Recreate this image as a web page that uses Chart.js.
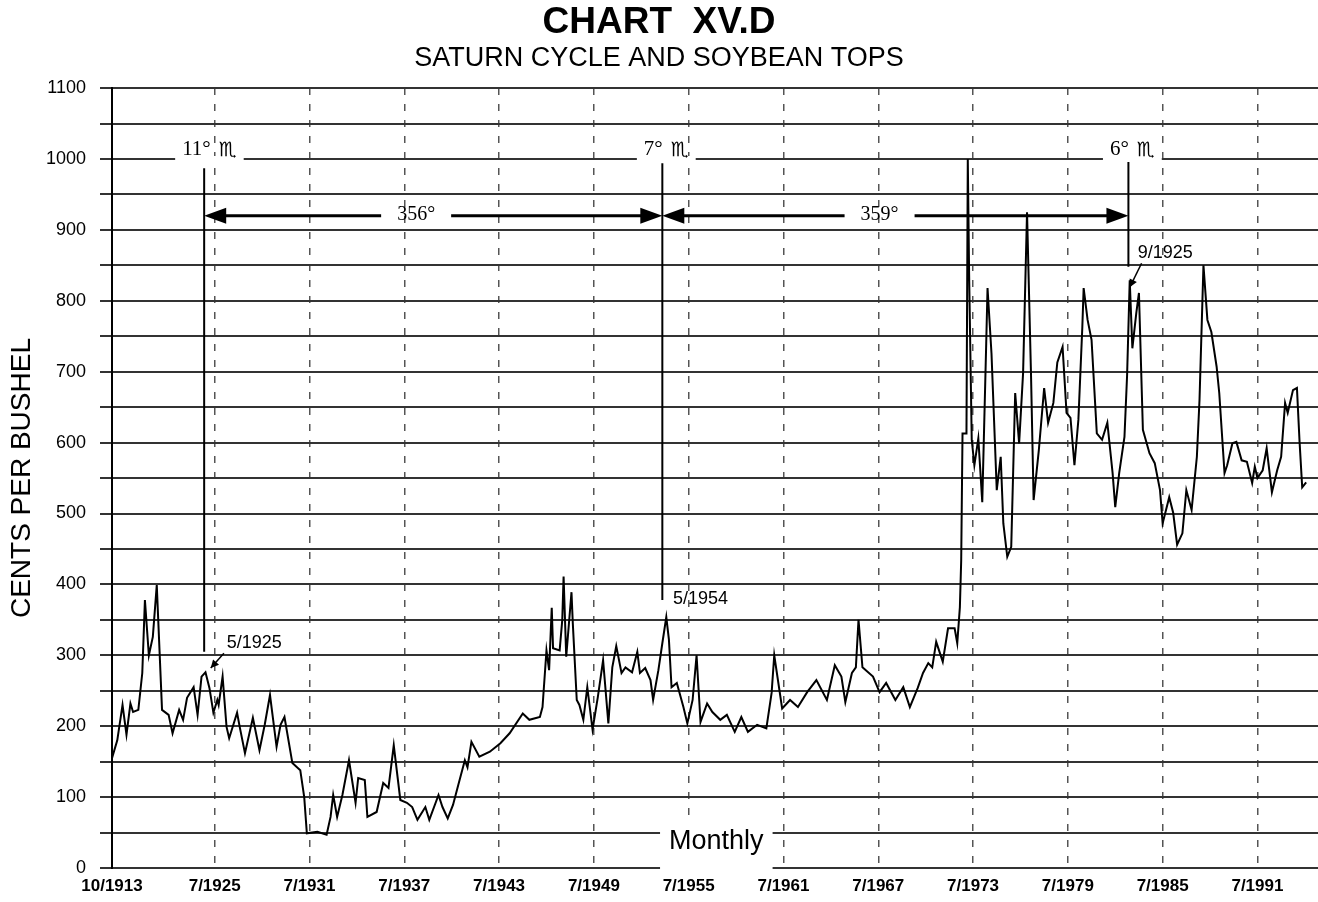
<!DOCTYPE html>
<html>
<head>
<meta charset="utf-8">
<title>Chart XV.D</title>
<script src="https://cdn.jsdelivr.net/npm/chart.js@4.4.1/dist/chart.umd.min.js"></script>
<style>
  html, body { margin: 0; padding: 0; background: #fff; }
  canvas { display: block; }
</style>
</head>
<body>
<canvas id="soy-chart" width="1318" height="902"></canvas>
<script>
// x = position on the original monthly axis (0 = 10/1913), y = cents per bushel
const months = [
  0, 4, 8, 11, 14, 16, 20, 23, 25, 28, 31, 34, 38, 43, 46, 51, 54, 57, 62, 65,
  68, 71, 74, 77, 80, 81, 84, 87, 89, 95, 97, 101, 107, 112, 116, 120, 125, 128, 131, 137,
  143, 146, 148, 156, 163, 166, 168, 171, 175, 180, 185, 187, 192, 194, 201, 206, 210, 214, 219, 224,
  228, 232, 238, 241, 248, 251, 255, 259, 263, 268, 270, 273, 279, 287, 295, 302, 312, 317, 325, 327,
  330, 332, 334, 335, 340, 342, 343, 345, 349, 350, 353, 355, 358, 361, 365, 369, 373, 377, 380, 383,
  387, 390, 395, 399, 401, 405, 409, 411, 415, 418, 421, 423, 425, 429, 434, 437, 441, 444, 447, 452,
  456, 462, 467, 473, 478, 483, 490, 497, 501, 503, 509, 515, 521, 528, 535, 543, 549, 554, 557, 562,
  565, 567, 570, 578, 583, 588, 595, 601, 606, 612, 616, 620, 623, 626, 631, 635, 640, 642, 644, 645,
  646, 649, 650, 651, 653, 655, 658, 661, 664, 665, 668, 672, 675, 677, 680, 683, 686, 689, 692, 695,
  698, 700, 704, 708, 711, 715, 718, 722, 725, 728, 731, 734, 737, 738, 741, 744, 748, 752, 756, 760,
  762, 765, 769, 771, 773, 775, 778, 780, 783, 788, 792, 796, 798, 803, 806, 809, 813, 816, 820, 824,
  826, 829, 832, 835, 839, 841, 845, 847, 851, 854, 858, 862, 866, 868, 870, 874, 877, 881, 885, 888,
  891, 893, 897, 900, 902, 904, 907
];
const cents = [
  155, 180, 230, 188, 232, 220, 223, 275, 378, 300, 326, 399, 223, 216, 190, 223, 209, 240, 255, 216,
  270, 276, 254, 219, 237, 230, 270, 199, 183, 219, 199, 162, 212, 166, 202, 244, 171, 202, 213, 148,
  138, 100, 49, 51, 47, 72, 103, 72, 103, 152, 92, 127, 124, 72, 79, 120, 113, 173, 96, 92,
  86, 68, 86, 68, 103, 86, 70, 89, 117, 152, 142, 178, 157, 164, 176, 190, 218, 209, 213, 227,
  307, 279, 367, 310, 307, 350, 411, 298, 389, 345, 237, 230, 209, 255, 195, 241, 293, 204, 283, 313,
  275, 283, 276, 305, 275, 282, 265, 237, 279, 317, 354, 322, 255, 261, 227, 204, 237, 300, 206, 232,
  220, 209, 216, 192, 213, 192, 202, 197, 247, 300, 225, 237, 227, 248, 265, 237, 286, 270, 234, 275,
  283, 350, 283, 270, 248, 261, 237, 255, 227, 254, 275, 289, 283, 319, 291, 338, 338, 317, 368, 434,
  613, 613, 1000, 839, 604, 568, 606, 516, 740, 818, 726, 533, 580, 486, 439, 453, 670, 599, 698, 925,
  698, 519, 590, 677, 628, 656, 713, 735, 642, 635, 568, 632, 763, 818, 773, 745, 613, 604, 628, 557,
  509, 557, 608, 695, 829, 733, 783, 811, 618, 585, 571, 533, 486, 523, 501, 456, 472, 533, 505, 580,
  660, 850, 773, 756, 707, 670, 557, 568, 599, 601, 575, 573, 543, 566, 550, 561, 592, 530, 561, 580,
  656, 642, 674, 677, 601, 537, 544
];

const tickPos = [0, 78, 150, 222, 294, 366, 438, 510, 582, 654, 726, 798, 870];
const tickLabels = ['10/1913', '7/1925', '7/1931', '7/1937', '7/1943', '7/1949', '7/1955',
  '7/1961', '7/1967', '7/1973', '7/1979', '7/1985', '7/1991'];

// Saturn markers, in axis units
const saturnLines = [[70, 987, 305], [418, 994, 378], [772, 998, 848]];
const saturnSigns = [[74, '11°'], [421, '7°'], [775, '6°']];
const spans = [[70, 418, 231, '356°'], [418, 772, 583, '359°']];
const SPAN_LEVEL = 920;
const topLabels = [[108, 317, '5/1925'], [447, 379, '5/1954'], [800, 867, '9/1925']];
const pointers = [[85, 303, 75, 282], [782, 853, 773, 819]];

Chart.defaults.font.family = "'Liberation Sans', Arial, Helvetica, sans-serif";
Chart.defaults.color = '#000';

const SERIF = "'Liberation Serif', 'Times New Roman', serif";
const SCORPIO = '\u264F\uFE0E';

function head(c, tx, ty, dx, dy, len, half) {
  // filled triangle with its tip at (tx, ty), pointing along (dx, dy)
  const n = Math.hypot(dx, dy);
  const ux = dx / n, uy = dy / n;
  const bx = tx - ux * len, by = ty - uy * len;
  c.beginPath();
  c.moveTo(tx, ty);
  c.lineTo(bx - uy * half, by + ux * half);
  c.lineTo(bx + uy * half, by - ux * half);
  c.closePath();
  c.fill();
}

const annotate = {
  id: 'annotate',
  afterDatasetsDraw(chart) {
    const c = chart.ctx;
    const x = chart.scales.x, y = chart.scales.y;
    const px = v => x.getPixelForValue(v);
    const py = v => y.getPixelForValue(v);
    c.save();
    c.strokeStyle = '#000';
    c.fillStyle = '#000';

    // vertical Saturn lines
    c.lineWidth = 2;
    saturnLines.forEach(([m, a, b]) => {
      c.beginPath();
      c.moveTo(px(m), py(a));
      c.lineTo(px(m), py(b));
      c.stroke();
    });

    // degree spans with arrows
    c.font = '20px ' + SERIF;
    c.textAlign = 'center';
    c.textBaseline = 'middle';
    spans.forEach(([a, b, mid, txt]) => {
      const yy = py(SPAN_LEVEL);
      const gap = 35;
      c.lineWidth = 3;
      c.beginPath();
      c.moveTo(px(a) + 10, yy);
      c.lineTo(px(mid) - gap, yy);
      c.moveTo(px(mid) + gap, yy);
      c.lineTo(px(b) - 10, yy);
      c.stroke();
      head(c, px(a), yy, -1, 0, 22, 8);
      head(c, px(b), yy, 1, 0, 22, 8);
      c.fillText(txt, px(mid), yy - 1);
    });

    // sign labels sitting on the 1000 line: degrees + Scorpio glyph
    c.textBaseline = 'alphabetic';
    c.textAlign = 'left';
    saturnSigns.forEach(([m, deg]) => {
      c.font = '21px ' + SERIF;
      const w1 = c.measureText(deg).width;
      c.font = "20px 'DejaVu Sans', 'Noto Sans Symbols', sans-serif";
      const w2 = c.measureText(SCORPIO).width;
      const w = w1 + 8 + w2;
      const left = px(m) - w / 2, yy = py(1000);
      c.fillStyle = '#fff';
      c.fillRect(left - 7, yy - 3, w + 14, 6);
      c.fillStyle = '#000';
      c.font = '21px ' + SERIF;
      c.fillText(deg, left, yy - 4);
      c.font = "20px 'DejaVu Sans', 'Noto Sans Symbols', sans-serif";
      c.fillText(SCORPIO, left + w1 + 8, yy - 3);
    });

    // date labels
    c.textAlign = 'center';
    c.font = "18px 'Liberation Sans', Arial, sans-serif";
    c.textBaseline = 'middle';
    topLabels.forEach(([m, v, txt]) => c.fillText(txt, px(m), py(v)));

    c.lineWidth = 1.5;
    pointers.forEach(([m0, v0, m1, v1]) => {
      const x0 = px(m0), y0 = py(v0), x1 = px(m1), y1 = py(v1);
      c.beginPath();
      c.moveTo(x0, y0);
      c.lineTo(x1, y1);
      c.stroke();
      head(c, x1, y1, x1 - x0, y1 - y0, 8, 4);
    });

    // "Monthly" caption over the bottom lines
    c.font = "27px 'Liberation Sans', Arial, sans-serif";
    const mx = px(459), my = py(38);
    const mw = c.measureText('Monthly').width;
    c.fillStyle = '#fff';
    c.fillRect(mx - mw / 2 - 9, py(50) - 14, mw + 18, py(0) - py(50) + 17);
    c.fillStyle = '#000';
    c.fillText('Monthly', mx, my);
    c.restore();
  }
};

new Chart(document.getElementById('soy-chart').getContext('2d'), {
  type: 'line',
  data: {
    datasets: [{
      label: 'Soybeans',
      data: months.map((m, i) => ({ x: m, y: cents[i] })),
      borderColor: '#000',
      borderWidth: 2,
      pointRadius: 0,
      tension: 0,
      fill: false
    }]
  },
  options: {
    responsive: false,
    animation: false,
    layout: { padding: 0 },
    plugins: {
      legend: { display: false },
      tooltip: { enabled: false },
      title: {
        display: true,
        text: 'CHART  XV.D',
        color: '#000',
        font: { size: 37, weight: 'bold', lineHeight: 1.1 },
        padding: { top: 2, bottom: 0 }
      },
      subtitle: {
        display: true,
        text: 'SATURN CYCLE AND SOYBEAN TOPS',
        color: '#000',
        font: { size: 27, lineHeight: 1.2 },
        padding: { top: 0, bottom: 13 }
      }
    },
    scales: {
      x: {
        type: 'linear',
        min: 0,
        max: 916,
        afterBuildTicks: scale => { scale.ticks = tickPos.map(v => ({ value: v })); },
        afterFit: scale => { scale.height = 34; },
        ticks: {
          autoSkip: false,
          maxRotation: 0,
          padding: 8,
          font: { size: 17, weight: 'bold' },
          color: '#000',
          callback: (value, index) => tickLabels[index]
        },
        grid: {
          color: ctx => ctx.index === 0 ? 'rgba(0,0,0,0)' : '#555',
          lineWidth: 1.5,
          drawTicks: false
        },
        border: { display: false, dash: [7, 9] }
      },
      y: {
        min: 0,
        max: 1100,
        afterFit: scale => { scale.width = 112; },
        ticks: {
          stepSize: 50,
          padding: 14,
          font: { size: 18 },
          color: '#000',
          callback: v => (v % 100 === 0 ? v : '')
        },
        grid: {
          color: '#333',
          lineWidth: 2,
          tickLength: 12
        },
        border: { color: '#000', width: 2 },
        title: {
          display: true,
          text: 'CENTS PER BUSHEL',
          color: '#000',
          font: { size: 28 },
          padding: { top: 5, bottom: 0 }
        }
      }
    }
  },
  plugins: [annotate]
});
</script>
</body>
</html>
